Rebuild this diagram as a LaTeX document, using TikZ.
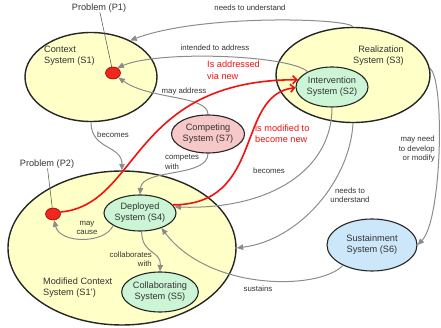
\documentclass[tikz,border=0pt]{standalone}
\usepackage{fontspec}
\setmainfont{Liberation Sans}
\usetikzlibrary{shapes.geometric,arrows.meta}
\definecolor{yel}{RGB}{255,255,200}
\definecolor{grn}{RGB}{204,245,214}
\definecolor{pnk}{RGB}{247,200,200}
\definecolor{blu}{RGB}{204,230,250}
\definecolor{txt}{RGB}{51,51,51}
\definecolor{connc}{RGB}{140,140,140}
\definecolor{redc}{RGB}{245,15,15}
\definecolor{dotred}{RGB}{238,40,28}
\begin{document}
\begin{tikzpicture}[x=1pt,y=-1pt,
  ell/.style={ellipse, draw=black!85, line width=1.1pt, inner sep=0pt, align=center, text=txt, font=\fontsize{9.2}{11}\selectfont},
  bigell/.style={ell, line width=1.4pt, fill=yel},
  smallsys/.style={ell, fill=grn},
  dot/.style={ellipse, draw=red!60!black, line width=0.6pt, fill=dotred, inner sep=0pt, minimum width=15pt, minimum height=12pt},
  mainlbl/.style={inner sep=0pt, text=txt, font=\fontsize{9.2}{11}\selectfont},
  edgelbl/.style={inner sep=0pt, text=txt, font=\fontsize{7.8}{9.3}\selectfont},
  redlbl/.style={inner sep=0pt, text=redc, font=\fontsize{9.2}{11.5}\selectfont, align=left, anchor=west},
  gc/.style={draw=connc, line width=1pt, -{Triangle[length=6.5pt,width=5.5pt]}},
  rc/.style={draw=redc, line width=1.6pt, -{Straight Barb[length=4pt,width=8pt]}},
  pl/.style={draw=black!70, line width=0.5pt}
]
\useasboundingbox (0,0) rectangle (441,328);

% big ellipses
\node[bigell, minimum width=132pt, minimum height=89pt] (s1) at (91,77) {};
\node[bigell, minimum width=154pt, minimum height=95pt] (s3) at (353,75) {};
\node[bigell, minimum width=228pt, minimum height=154pt] (s1p) at (122,248) {};

\node[mainlbl, align=left, anchor=west] (s1lbl) at (44,55.5) {Context\\System (S1)};
\node[mainlbl, align=right, anchor=east] (s3lbl) at (404,55.5) {Realization\\System (S3)};
\node[mainlbl, align=left, anchor=west] (s1plbl) at (43,287.5) {Modified Context\\System (S1')};

% inner systems
\node[smallsys, minimum width=72pt, minimum height=40pt] (s2) at (332,87) {Intervention\\System (S2)};
\node[smallsys, minimum width=72pt, minimum height=36pt] (s4) at (140,213) {Deployed\\System (S4)};
\node[smallsys, minimum width=73pt, minimum height=40pt] (s5) at (160,292) {Collaborating\\System (S5)};
\node[ell, fill=pnk, minimum width=73pt, minimum height=38pt] (s7) at (208,134) {Competing\\System (S7)};
\node[ell, fill=blu, minimum width=90pt, minimum height=52pt] (s6) at (372,245) {Sustainment\\System (S6)};

% problems
\node[dot] (p1) at (113,73) {};
\node[dot] (p2) at (53,214) {};
\node[mainlbl] (p1lbl) at (99,8) {Problem (P1)};
\node[mainlbl] (p2lbl) at (47,164) {Problem (P2)};
\draw[pl] (p1lbl) -- (p1);
\draw[pl] (p2lbl) -- (p2);

% grey connectors
\draw[gc] (s3.north) .. controls (348,18) and (200,14) .. (s1.43);
\draw[gc] (s2.148) .. controls (290,55) and (160,50) .. (p1.50);
\draw[gc] (s7.north) .. controls (208,95) and (150,100) .. (p1.-40);
\draw[gc] (s1.south) .. controls (91,150) and (122,145) .. (s1p.north);
\draw[gc] (s7.south) .. controls (208,178) and (142,168) .. (s4.north);
\draw[gc] (s2.south) .. controls (332,170) and (270,210) .. (s4.10);
\draw[gc] (s3.south) .. controls (350,180) and (300,240) .. (s1p.east);
\draw[gc] (s3.5) .. controls (445,80) and (442,220) .. (s6.east);
\draw[gc] (s6.215) .. controls (320,290) and (210,292) .. (s4.-35);
\draw[gc] (s4.205) .. controls (105,244) and (60,244) .. (p2.-80);
\draw[gc] (s4.-85) .. controls (142,255) and (161,250) .. (s5.north);

% grey labels
\node[edgelbl] (l1) at (250,8) {needs to understand};
\node[edgelbl] (l2) at (215,48) {intended to address};
\node[edgelbl] (l3) at (184,91) {may address};
\node[edgelbl] (l4) at (113,135) {becomes};
\node[edgelbl, align=left, anchor=west] (l5) at (165,162) {competes\\with};
\node[edgelbl] (l6) at (269,171) {becomes};
\node[edgelbl, align=center] (l7) at (350,195.5) {needs to\\understand};
\node[edgelbl, align=right, anchor=east] (l8) at (435,149) {may need\\to develop\\or modify};
\node[edgelbl] (l9) at (258,289) {sustains};
\node[edgelbl, align=center] (l10) at (87,228) {may\\cause};
\node[edgelbl, align=right, anchor=east] (l11) at (152,259.5) {collaborates\\with};

% red connectors
\draw[rc] (p2.15) .. controls (140,205) and (130,80) .. (s2.168);
\draw[rc] (s4.14) .. controls (265,205) and (235,95) .. (s2.181);
\node[redlbl] (r1) at (207,70) {Is addressed\\via new};
\node[redlbl] (r2) at (255,133.5) {is modified to\\become new};
\end{tikzpicture}
\end{document}
